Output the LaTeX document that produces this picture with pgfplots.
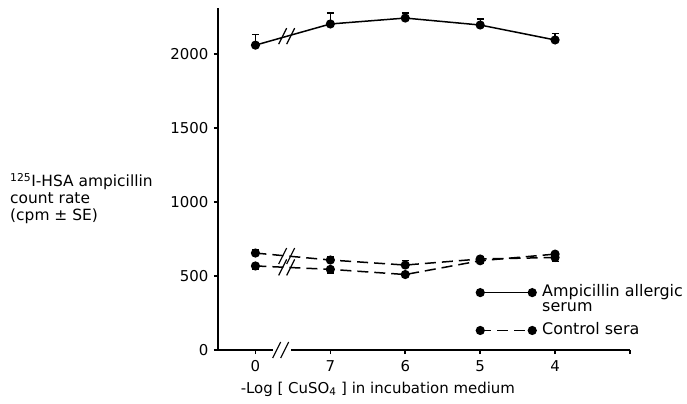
\documentclass[border=0pt]{standalone}
\usepackage{pgfplots}
\pgfplotsset{compat=1.18}
\usepackage{fontspec}
\setmainfont{DejaVu Sans}
\begin{document}
\begin{tikzpicture}
\begin{axis}[name=ax, scale only axis, width=412bp, height=342bp,
  xmin=-0.5, xmax=5, ymin=0, ymax=2311, clip=false,
  axis x line=bottom, axis y line=left,
  axis line style={-, line width=2.6bp},
  xtick={0,1,2,3,4}, xticklabels={0,7,6,5,4},
  extra x ticks={5}, extra x tick labels={},
  ytick={0,500,1000,1500,2000}, yticklabels={0,500,1000,1500,2000},
  tick align=outside, major tick length=4bp,
  tick style={line width=1.6bp, black},
  tick label style={font=\fontsize{15}{17}\selectfont},
  yticklabel style={xshift=-2bp},
  xticklabel style={yshift=-3bp},
  legend cell align=left,
  legend style={draw=none, fill=none, at={(0.625,0.198)}, anchor=north west,
    inner sep=0pt, row sep=1bp, font=\fontsize{16}{18}\selectfont,
    cells={anchor=base west}},
  every axis plot/.append style={black, line width=1.5bp, mark=*, mark size=3.8bp,
    mark options={solid}},
  error bars/error bar style={line width=1.3bp, solid},
  error bars/error mark options={rotate=90, mark size=3.5bp, line width=1.3bp, solid},
]
% Ampicillin allergic serum
\addplot[solid, forget plot, error bars/.cd, y dir=plus, y explicit] coordinates {
  (0,2060) +- (0,70)
  (1,2203) +- (0,75)
  (2,2243) +- (0,35)
  (3,2196) +- (0,40)
  (4,2095) +- (0,45)
};
% Control sera (upper)
\addplot[dash pattern=on 11bp off 6bp, forget plot, error bars/.cd, y dir=plus, y explicit] coordinates {
  (0,655) +- (0,25)
  (1,608) +- (0,25)
  (2,574) +- (0,30)
  (3,615) +- (0,15)
  (4,625) +- (0,20)
};
% Control sera (lower)
\addplot[dash pattern=on 11bp off 6bp, forget plot, error bars/.cd, y dir=minus, y explicit] coordinates {
  (0,568) +- (0,20)
  (1,545) +- (0,25)
  (2,510) +- (0,12)
  (3,603) +- (0,15)
  (4,648) +- (0,50)
};
% legend
\addlegendimage{legend image code/.code={
    \draw[black, solid, line width=1.5bp, yshift=0.4em] (0bp,0bp) -- (52bp,0bp);
    \fill[black, yshift=0.4em] (0bp,0bp) circle (3.8bp) (52bp,0bp) circle (3.8bp);
    \path[draw=none] (0bp,0bp) -- (60bp,0bp);}}
\addlegendentry{Ampicillin allergic}
\addlegendimage{legend image code/.code={\path[draw=none] (0bp,0bp) -- (60bp,0bp);}}
\addlegendentry{serum}
\addlegendimage{legend image code/.code={
    \draw[black, line width=1.5bp, dash pattern=on 11bp off 6bp, yshift=0.4em] (0bp,0bp) -- (52bp,0bp);
    \fill[black, yshift=0.4em] (0bp,0bp) circle (3.8bp) (52bp,0bp) circle (3.8bp);
    \path[draw=none] (0bp,0bp) -- (60bp,0bp);}}
\addlegendentry{\rule{0pt}{16bp}Control sera}
% axis break marks
\fill[white] ([xshift=-9bp,yshift=-4bp]axis cs:0.35,0) rectangle ([xshift=9bp,yshift=4bp]axis cs:0.35,0);
\draw[line width=1.2bp] ([shift={(-9bp,-8bp)}]axis cs:0.35,0) -- ++(8bp,16bp)
  ([shift={(-1bp,-8bp)}]axis cs:0.35,0) -- ++(8bp,16bp);
\draw[line width=1.2bp] ([shift={(-9bp,-8bp)}]axis cs:0.43,2121) -- ++(8bp,16bp)
  ([shift={(-1bp,-8bp)}]axis cs:0.43,2121) -- ++(8bp,16bp);
\draw[line width=1.2bp] ([shift={(-9bp,-8bp)}]axis cs:0.43,635) -- ++(8bp,16bp)
  ([shift={(-1bp,-8bp)}]axis cs:0.43,635) -- ++(8bp,16bp);
\draw[line width=1.2bp] ([shift={(-9bp,-8bp)}]axis cs:0.43,558) -- ++(8bp,16bp)
  ([shift={(-1bp,-8bp)}]axis cs:0.43,558) -- ++(8bp,16bp);
% labels
\node[anchor=base, inner sep=0pt, font=\fontsize{15}{17}\selectfont]
  at ([yshift=-43bp]axis description cs:0.388,0) {-Log [ CuSO\textsubscript{4} ] in incubation medium};
\node[anchor=base west, inner sep=0pt, font=\fontsize{15.5}{17}\selectfont]
  at ([xshift=-208bp,yshift=163bp]axis description cs:0,0)
  {\begin{tabular}[t]{@{}l@{}}\textsuperscript{125}I-HSA ampicillin\\count rate\\(cpm ± SE)\end{tabular}};
\end{axis}
\pgfresetboundingbox
\path ([shift={(-218bp,-54bp)}]ax.south west) rectangle ([shift={(469bp,350bp)}]ax.south west);
\end{tikzpicture}
\end{document}
